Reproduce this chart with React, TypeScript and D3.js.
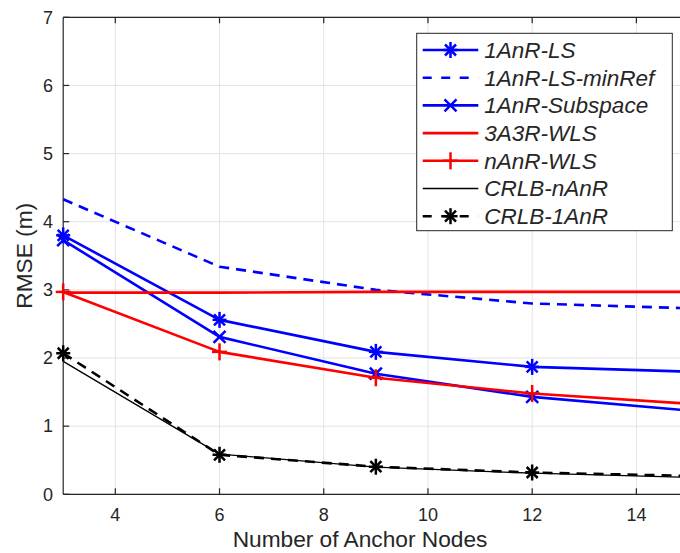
import { useEffect, useRef } from "react";
import * as d3 from "d3";

const anchors = [3, 6, 9, 12, 15];
const lsVals = [3.8, 2.56, 2.09, 1.87, 1.8];
const lsMinRefVals = [4.33, 3.34, 3.0, 2.8, 2.73];
const subspaceVals = [3.73, 2.31, 1.77, 1.43, 1.23];
const wls3a3rVals = [2.96, 2.96, 2.97, 2.97, 2.97];
const nAnRWlsVals = [2.97, 2.09, 1.71, 1.48, 1.33];
const crlbNAnRVals = [1.95, 0.59, 0.4, 0.31, 0.25];
const crlb1AnRVals = [2.07, 0.58, 0.405, 0.32, 0.27];
const xTicks = [4, 6, 8, 10, 12, 14];
const yTicks = [0, 1, 2, 3, 4, 5, 6, 7];

type Series = {
  name: string;
  values: number[];
  color: string;
  width: number;
  dash: string | null;
  marker: "star" | "x" | "plus" | null;
};

const series: Series[] = [
  { name: "1AnR-LS", values: lsVals, color: "#0000ff", width: 2.6, dash: null, marker: "star" },
  { name: "1AnR-LS-minRef", values: lsMinRefVals, color: "#0000ff", width: 2.6, dash: "10,7", marker: null },
  { name: "1AnR-Subspace", values: subspaceVals, color: "#0000ff", width: 2.6, dash: null, marker: "x" },
  { name: "3A3R-WLS", values: wls3a3rVals, color: "#ff0000", width: 2.6, dash: null, marker: null },
  { name: "nAnR-WLS", values: nAnRWlsVals, color: "#ff0000", width: 2.6, dash: null, marker: "plus" },
  { name: "CRLB-nAnR", values: crlbNAnRVals, color: "#000000", width: 1.3, dash: null, marker: null },
  { name: "CRLB-1AnR", values: crlb1AnRVals, color: "#000000", width: 2.6, dash: "10,7", marker: "star" },
];

const W = 680;
const H = 553;
const FONT = "'Liberation Sans', Arial, Helvetica, sans-serif";

function drawMarker(g: any, type: string, x: number, y: number, color: string) {
  const m = g
    .append("g")
    .attr("transform", `translate(${x},${y})`)
    .attr("stroke", color)
    .attr("stroke-width", 2.5)
    .attr("fill", "none");
  const seg = (x1: number, y1: number, x2: number, y2: number) =>
    m.append("line").attr("x1", x1).attr("y1", y1).attr("x2", x2).attr("y2", y2);
  if (type === "plus") {
    seg(-7.5, 0, 7.5, 0);
    seg(0, -8.5, 0, 8.5);
  } else if (type === "x") {
    seg(-6, -6, 6, 6);
    seg(-6, 6, 6, -6);
  } else {
    seg(-7, 0, 7, 0);
    seg(0, -8, 0, 8);
    seg(-5.5, -5.5, 5.5, 5.5);
    seg(-5.5, 5.5, 5.5, -5.5);
  }
}

export default function App() {
  const ref = useRef<SVGSVGElement>(null);

  useEffect(() => {
    const svg = d3.select(ref.current);
    svg.selectAll("*").remove();

    const x = d3.scaleLinear().domain([3, 15]).range([63.2, 688.5]);
    const y = d3.scaleLinear().domain([0, 7]).range([494.3, 17.3]);
    const [x0, x1] = x.range();
    const [y0, y1] = y.range();

    svg.append("rect").attr("width", W).attr("height", H).attr("fill", "#fff");

    // grid
    const grid = svg.append("g").attr("stroke", "#e3e3e3").attr("stroke-width", 1);
    xTicks.forEach((t) => grid.append("line").attr("x1", x(t)).attr("x2", x(t)).attr("y1", y0).attr("y2", y1));
    yTicks.forEach((t) => grid.append("line").attr("x1", x0).attr("x2", x1).attr("y1", y(t)).attr("y2", y(t)));

    // axes
    const axCol = "#262626";
    const ax = svg.append("g").attr("stroke", axCol).attr("stroke-width", 1.2);
    ax.append("line").attr("x1", x0).attr("x2", x1).attr("y1", y0).attr("y2", y0);
    ax.append("line").attr("x1", x0).attr("x2", x1).attr("y1", y1).attr("y2", y1);
    ax.append("line").attr("x1", x0).attr("x2", x0).attr("y1", y0).attr("y2", y1);
    xTicks.forEach((t) => {
      ax.append("line").attr("x1", x(t)).attr("x2", x(t)).attr("y1", y0).attr("y2", y0 - 6);
      ax.append("line").attr("x1", x(t)).attr("x2", x(t)).attr("y1", y1).attr("y2", y1 + 6);
    });
    yTicks.forEach((t) => {
      ax.append("line").attr("x1", x0).attr("x2", x0 + 6).attr("y1", y(t)).attr("y2", y(t));
    });

    const labels = svg.append("g").attr("font-family", FONT).attr("fill", axCol);
    xTicks.forEach((t) =>
      labels.append("text").attr("x", x(t)).attr("y", 520.5).attr("text-anchor", "middle").attr("font-size", 18).text(t)
    );
    yTicks.forEach((t) =>
      labels.append("text").attr("x", 53).attr("y", y(t) + 6.3).attr("text-anchor", "end").attr("font-size", 18).text(t)
    );
    labels.append("text").attr("x", 360).attr("y", 546.5).attr("text-anchor", "middle").attr("font-size", 22.7).text("Number of Anchor Nodes");
    labels
      .append("text")
      .attr("transform", `translate(32,${(y0 + y1) / 2}) rotate(-90)`)
      .attr("text-anchor", "middle")
      .attr("font-size", 22.7)
      .text("RMSE (m)");

    // series
    const line = d3
      .line<number>()
      .x((_, i) => x(anchors[i]))
      .y((d) => y(d));
    const plot = svg.append("g");
    series.forEach((s) => {
      plot
        .append("path")
        .attr("d", line(s.values))
        .attr("fill", "none")
        .attr("stroke", s.color)
        .attr("stroke-width", s.width)
        .attr("stroke-dasharray", s.dash)
        .attr("stroke-linejoin", "round");
      if (s.marker) {
        s.values.forEach((v, i) => drawMarker(plot, s.marker as string, x(anchors[i]), y(v), s.color));
      }
    });

    // legend
    const lg = svg.append("g");
    lg.append("rect").attr("x", 416.7).attr("y", 33.3).attr("width", 255.6).attr("height", 197.4).attr("fill", "#fff").attr("stroke", axCol).attr("stroke-width", 1);
    series.forEach((s, i) => {
      const yy = 50 + i * 27.7;
      lg.append("line")
        .attr("x1", 422.7)
        .attr("x2", 478.3)
        .attr("y1", yy)
        .attr("y2", yy)
        .attr("stroke", s.color)
        .attr("stroke-width", s.width)
        .attr("stroke-dasharray", s.dash ? "9,9.5" : null);
      if (s.marker) drawMarker(lg, s.marker, 450.5, yy, s.color);
      lg.append("text")
        .attr("x", 484.3)
        .attr("y", yy + 7.8)
        .attr("font-family", FONT)
        .attr("font-style", "italic")
        .attr("font-size", 22.5)
        .attr("fill", axCol)
        .text(s.name);
    });
  }, []);

  return <svg ref={ref} width={W} height={H} style={{ position: "absolute", left: 0, top: 0 }} />;
}
